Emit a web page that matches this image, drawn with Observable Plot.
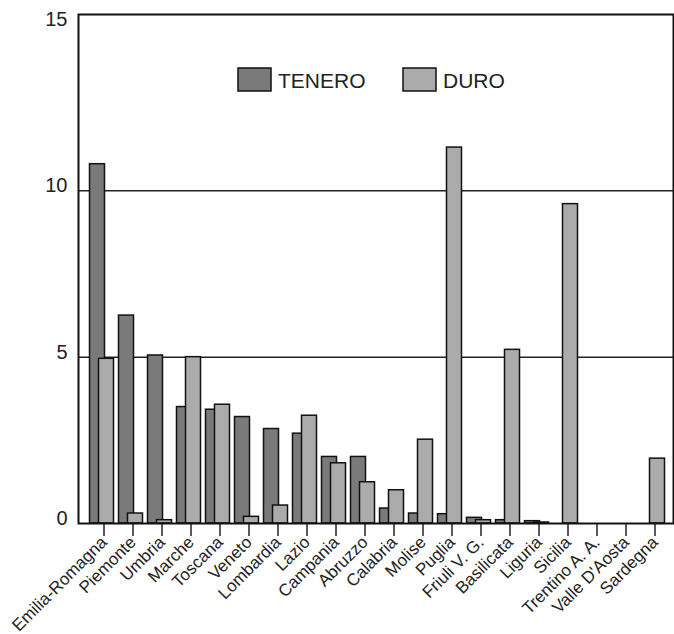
<!DOCTYPE html>
<html>
<head>
<meta charset="utf-8">
<script src="https://cdn.jsdelivr.net/npm/d3@7"></script>
<script src="https://cdn.jsdelivr.net/npm/@observablehq/plot@0.6"></script>
<style>
  html, body { margin: 0; padding: 0; background: #fff; }
  #chart svg { display: block; }
</style>
</head>
<body>
<div id="chart"></div>
<script>
const regions = ["Emilia-Romagna", "Piemonte", "Umbria", "Marche", "Toscana", "Veneto", "Lombardia", "Lazio", "Campania", "Abruzzo", "Calabria", "Molise", "Puglia", "Friuli V. G.", "Basilicata", "Liguria", "Sicilia", "Trentino A. A.", "Valle D'Aosta", "Sardegna"];
const tenero = [10.8, 6.25, 5.05, 3.5, 3.42, 3.2, 2.84, 2.7, 2.0, 2.0, 0.45, 0.3, 0.28, 0.17, 0.1, 0.07, 0, 0, 0, 0];
const duro = [4.95, 0.3, 0.1, 5.0, 3.57, 0.2, 0.54, 3.24, 1.81, 1.24, 1.0, 2.52, 11.3, 0.1, 5.22, 0.03, 9.6, 0, 0, 1.95];
const seriesNames = ["TENERO", "DURO"];
const seriesColors = ["#7a7a7a", "#ababab"];
const yTicks = [0, 5, 10, 15];
const gridValues = [5, 10];

const rowsT = regions.map((r, i) => ({region: r, value: tenero[i]})).filter(d => d.value > 0);
const rowsD = regions.map((r, i) => ({region: r, value: duro[i]})).filter(d => d.value > 0);

const font = "'Liberation Sans', Arial, Helvetica, sans-serif";

const chart = Plot.plot({
  width: 674,
  height: 634,
  marginLeft: 78,
  marginRight: 1,
  marginTop: 14,
  marginBottom: 111,
  style: {fontFamily: font, background: "#fff", color: "#222"},
  x: {domain: regions, paddingInner: 0.48, paddingOuter: 0.48, align: 0.63, label: null},
  y: {domain: [0, 15.3], label: null},
  marks: [
    Plot.ruleY(gridValues, {stroke: "#222", strokeWidth: 1.5}),
    Plot.barY(rowsT, {x: "region", y: "value", fill: seriesColors[0], stroke: "#111", strokeWidth: 1.5, dx: -6.5}),
    Plot.barY(rowsD, {x: "region", y: "value", fill: seriesColors[1], stroke: "#111", strokeWidth: 1.5, dx: 2.5}),
    Plot.axisY({ticks: yTicks, tickSize: 0, tickPadding: 11, fontSize: 20, dy: -5, label: null}),
    Plot.axisX({tickSize: 13, tickRotate: -45, fontSize: 17, tickPadding: 3, strokeWidth: 1.5, label: null}),
    Plot.frame({stroke: "#111", strokeWidth: 2})
  ]
});

// Legend inside the plot frame
const svg = d3.select(chart);
const lg = svg.append("g")
  .attr("font-family", font)
  .attr("font-size", 21)
  .attr("text-anchor", "start")
  .attr("fill", "#222");
const legendItems = [
  {name: seriesNames[0], color: seriesColors[0], x: 238},
  {name: seriesNames[1], color: seriesColors[1], x: 403}
];
for (const it of legendItems) {
  lg.append("rect").attr("x", it.x).attr("y", 68).attr("width", 33).attr("height", 23)
    .attr("fill", it.color).attr("stroke", "#111").attr("stroke-width", 1.5);
  lg.append("text").attr("x", it.x + 40).attr("y", 88).attr("text-anchor", "start").text(it.name);
}

document.getElementById("chart").appendChild(chart);
</script>
</body>
</html>
